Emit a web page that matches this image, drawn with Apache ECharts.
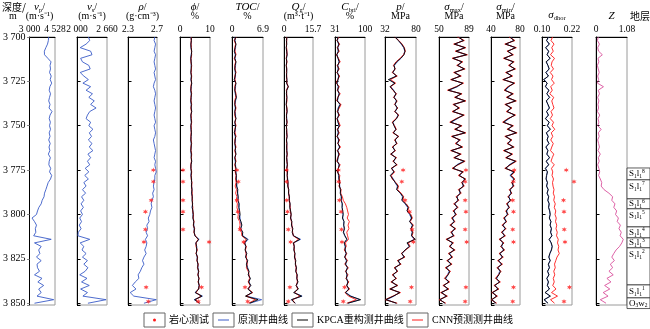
<!DOCTYPE html>
<html><head><meta charset="utf-8">
<script src="https://cdn.jsdelivr.net/npm/echarts@6/dist/echarts.min.js"></script>
<style>html,body{margin:0;padding:0;background:#fff}#c{width:650px;height:329px}</style>
</head><body><div id="c"></div>
<script>
// ---------------- DATA ----------------
const depth = [3700,3702,3704,3706,3708,3710,3712,3714,3716,3718,
3720,3722,3724,3726,3728,3730,3732,3734,3736,3738,
3740,3742,3744,3746,3748,3750,3752,3754,3756,3758,
3760,3762,3764,3766,3768,3770,3772,3774,3776,3778,
3780,3782,3784,3786,3788,3790,3792,3794,3796,3798,
3800,3802,3804,3806,3808,3810,3812,3814,3816,3818,
3820,3822,3824,3826,3828,3830,3832,3834,3836,3838,
3840,3842,3844,3846,3848,3850];

const vpOrig = [4150,4130,4080,3980,3890,3900,4100,4290,4230,4260,
4200,4300,4240,4330,4220,4180,4260,4200,4150,4230,
4170,4350,4230,4180,4250,4200,4260,4180,4230,4150,
4240,4170,4220,4130,4250,4180,4160,4270,4200,4330,
4260,4120,4050,3980,3900,3870,3760,3700,3560,3480,
3420,3150,3300,3420,3350,3380,3250,4300,3300,3700,
3550,3620,3420,3700,3450,3480,3600,3300,3750,3500,
3850,3550,3700,3450,4450,3300];

const vsOrig = [2250,2280,2200,2070,2300,2330,2080,2120,2260,2290,
2070,2150,2250,2130,2300,2200,2340,2260,2380,2300,
2420,2280,2230,2200,2300,2260,2350,2270,2320,2250,
2330,2270,2350,2240,2300,2230,2280,2180,2260,2170,
2250,2150,2200,2120,2190,2100,2150,2090,2140,2080,
2120,2060,2100,2050,2090,2030,2020,2280,2070,2150,
2110,2200,2120,2230,2150,2240,2180,2060,2220,2100,
2270,2080,2230,2130,2640,2240];

const rhoOrig = [2.67,2.66,2.68,2.67,2.66,2.68,2.67,2.66,2.67,2.68,
2.66,2.67,2.68,2.66,2.65,2.67,2.68,2.67,2.66,2.67,
2.68,2.67,2.66,2.67,2.68,2.66,2.67,2.68,2.67,2.65,
2.66,2.67,2.68,2.67,2.66,2.68,2.67,2.68,2.69,2.67,
2.67,2.66,2.65,2.66,2.64,2.65,2.63,2.62,2.63,2.61,
2.60,2.58,2.59,2.56,2.57,2.55,2.57,2.54,2.56,2.55,
2.53,2.55,2.52,2.50,2.52,2.49,2.47,2.44,2.45,2.40,
2.36,2.41,2.33,2.38,2.69,2.52];

const phiOrig = [3.6,3.8,3.7,3.6,3.9,3.7,3.6,3.8,3.7,3.8,
3.7,3.8,3.6,3.9,3.8,3.6,3.7,3.8,3.6,3.7,
3.8,3.9,3.7,3.6,3.8,3.7,3.6,3.8,3.7,3.7,
3.7,3.8,3.6,3.7,3.8,3.9,3.6,3.7,3.8,3.6,
3.9,3.8,3.9,4.0,3.8,4.1,4.1,4.2,4.0,4.3,
4.3,4.4,4.5,4.6,4.7,4.8,4.9,6.4,5.2,5.6,
5.5,5.5,5.7,5.8,5.9,6.0,6.1,6.1,6.2,6.2,
6.3,6.3,5.0,7.5,4.7,6.6];
const phiKpca = [3.7,3.8,3.6,3.7,3.9,3.8,3.6,3.7,3.8,3.7,
3.6,3.8,3.7,3.9,3.7,3.6,3.8,3.7,3.6,3.8,
3.7,3.9,3.6,3.7,3.8,3.6,3.7,3.8,3.7,3.6,
3.8,3.7,3.6,3.8,3.7,3.9,3.7,3.6,3.8,3.7,
3.8,3.9,3.8,4.0,3.9,4.1,4.0,4.2,4.1,4.3,
4.4,4.3,4.6,4.5,4.8,4.7,5.0,6.2,5.3,5.5,
5.6,5.4,5.8,5.7,6.0,5.9,6.2,6.0,6.3,6.1,
6.4,6.2,5.1,7.3,4.9,6.5];
const phiCnn = [3.8,3.7,3.7,3.8,3.8,3.9,3.7,3.6,3.9,3.8,
3.7,3.9,3.8,3.8,3.6,3.7,3.9,3.6,3.7,3.9,
3.6,3.8,3.7,3.8,3.9,3.7,3.8,3.7,3.6,3.7,
3.9,3.6,3.7,3.9,3.8,3.8,3.6,3.7,3.9,3.8,
3.7,4.0,3.9,3.9,4.1,4.0,4.2,4.1,4.3,4.2,
4.5,4.4,4.7,4.4,4.9,4.6,5.1,6.0,5.4,5.3,
5.8,5.3,5.9,5.6,6.1,5.8,6.3,5.9,6.4,6.0,
6.5,6.1,5.4,7.0,5.2,6.3];

const tocOrig = [0.7,0.7,0.8,0.8,0.6,0.7,0.7,0.8,0.8,0.7,
0.7,0.8,0.6,0.8,0.8,0.7,0.7,0.9,0.8,0.7,
0.7,0.7,0.8,0.8,0.7,0.7,0.8,0.6,0.7,0.8,
0.7,0.7,0.8,0.8,0.7,0.7,0.8,0.8,0.9,0.9,
1.0,1.0,1.1,1.2,1.3,1.3,1.4,1.5,1.6,1.6,
1.7,1.8,1.9,2.1,2.0,2.3,2.4,3.6,2.9,3.0,
3.0,3.2,3.1,3.4,3.3,3.5,3.7,3.7,4.0,3.8,
4.1,3.7,4.3,3.2,6.6,4.0];
const tocKpca = [0.8,0.6,0.9,0.7,0.5,0.8,0.6,0.9,0.7,0.6,
0.8,0.7,0.5,0.9,0.7,0.6,0.8,1.0,0.7,0.6,
0.8,0.6,0.7,0.9,0.6,0.8,0.7,0.5,0.8,0.7,
0.6,0.8,0.7,0.9,0.6,0.8,0.7,0.9,0.8,1.0,
0.9,1.1,1.0,1.3,1.2,1.4,1.3,1.6,1.5,1.7,
1.8,1.6,2.0,2.2,1.9,2.4,2.3,3.4,2.8,3.1,
2.9,3.3,3.0,3.5,3.2,3.4,3.8,3.6,4.1,3.7,
4.2,3.5,4.5,3.0,5.8,3.9];
const tocCnn = [0.9,0.5,0.8,0.6,0.7,0.9,0.5,0.8,0.6,0.7,
0.9,0.6,0.7,0.8,0.6,0.7,0.9,0.8,0.6,0.7,
0.9,0.7,0.6,0.8,0.7,0.9,0.6,0.7,0.9,0.6,
0.7,0.9,0.6,0.8,0.7,0.9,0.6,0.8,0.7,0.9,
0.8,0.9,0.7,1.0,0.8,1.1,0.9,1.2,1.1,1.3,
1.4,1.3,1.7,1.8,1.6,2.1,2.2,3.1,2.6,3.2,
3.0,3.1,3.2,3.3,3.4,3.2,3.6,3.8,3.9,3.6,
4.0,3.6,4.6,3.1,5.2,3.7];

const qgOrig = [1.5,1.4,1.4,1.3,1.5,1.6,1.4,1.4,1.3,1.5,
1.4,1.4,1.5,1.5,2.1,1.4,1.4,1.5,1.3,1.3,
1.4,1.6,1.4,1.5,1.5,1.3,1.4,1.5,1.6,1.4,
1.5,1.5,1.6,1.6,1.5,1.7,1.7,1.6,1.8,1.8,
2.0,2.1,2.2,2.5,2.5,2.8,2.9,3.2,3.3,3.5,
3.7,3.7,4.1,4.2,4.6,4.6,5.0,9.0,5.2,5.5,
5.5,5.8,5.8,6.2,6.2,6.6,6.5,7.0,7.0,7.4,
6.8,7.5,5.5,9.8,4.0,6.2];
const qgKpca = [1.6,1.3,1.5,1.2,1.4,1.7,1.3,1.5,1.2,1.4,
1.5,1.3,1.6,1.4,2.4,1.5,1.3,1.6,1.4,1.2,
1.5,1.7,1.3,1.4,1.6,1.2,1.5,1.4,1.7,1.3,
1.6,1.4,1.5,1.7,1.4,1.6,1.8,1.5,1.9,1.7,
1.9,2.2,2.0,2.6,2.4,3.0,2.8,3.3,3.1,3.6,
3.9,3.5,4.3,4.0,4.8,4.4,5.2,8.6,5.0,5.6,
5.3,6.0,5.6,6.4,6.1,6.8,6.3,7.2,6.9,7.6,
6.5,7.8,5.2,9.5,4.1,6.0];
const qgCnn = [1.4,1.5,1.3,1.4,1.6,1.5,1.2,1.6,1.3,1.5,
1.3,1.5,1.4,1.6,2.2,1.3,1.5,1.4,1.6,1.3,
1.6,1.5,1.4,1.3,1.7,1.4,1.3,1.6,1.5,1.4,
1.4,1.6,1.4,1.8,1.5,1.5,1.9,1.6,1.7,1.8,
1.8,2.0,2.2,2.4,2.6,2.7,3.0,3.1,3.4,3.4,
3.8,3.6,4.0,4.3,4.5,4.7,5.0,7.8,5.3,5.4,
5.6,5.7,5.9,6.1,6.3,6.5,6.6,6.9,7.1,7.2,
6.7,7.4,5.8,8.6,4.6,5.8];

const cbriOrig = [38,37,39,38,38,36,38,40,38,38,
37,39,38,36,38,38,40,38,37,42,
38,38,39,37,38,40,38,38,37,39,
38,41,38,39,38,37,40,39,38,39,
40,41,42,43,44,45,46,47,48,48,
49,49,51,51,52,51,53,59,53,54,
55,56,54,57,56,59,57,58,58,60,
59,62,56,68,88,61];
const cbriKpca = [38,36,40,37,39,35,38,41,37,39,
36,40,38,35,39,37,41,38,36,43,
39,37,40,36,38,41,37,39,36,40,
38,42,37,40,38,36,41,39,37,40,
40,42,41,44,43,46,45,48,47,49,
50,48,52,51,53,50,54,58,52,55,
54,57,53,58,55,60,56,59,57,61,
58,63,55,66,90,60];
const cbriCnn = [40,35,42,36,41,34,39,43,36,41,
35,42,37,34,41,36,43,37,35,45,
41,36,42,35,40,43,36,41,35,42,
37,44,36,42,37,35,43,38,36,42,
41,43,40,45,44,48,50,55,58,60,
62,59,64,61,63,58,60,62,55,57,
52,58,54,60,53,62,55,61,56,63,
57,65,54,62,80,58];

const pOrig = [48.0,53.0,57.0,61.0,62.5,61.0,57.0,51.0,46.5,47.0,
44.5,49.0,39.0,46.5,41.0,45.5,48.5,46.5,49.5,48.0,
50.5,48.0,52.0,49.5,44.5,46.5,48.5,45.5,52.0,48.0,
49.5,44.5,47.0,42.0,48.5,45.5,49.5,43.0,45.5,41.0,
45.0,47.5,51.0,50.5,55.5,59.0,58.5,63.0,67.0,66.5,
70.0,72.5,70.5,74.0,72.5,74.0,73.0,77.0,67.0,69.5,
63.5,58.5,61.0,53.0,55.0,48.0,50.5,45.0,48.5,43.0,
50.0,41.0,54.0,46.0,35.0,49.0];
const pKpca = [47.5,52.6,57.8,61.4,63.0,61.4,56.3,50.0,45.9,47.5,
43.9,50.0,37.2,47.5,39.7,44.9,49.0,45.9,50.0,47.5,
51.1,47.5,52.6,50.0,43.9,45.9,49.0,44.9,52.6,47.5,
50.0,43.9,47.5,41.0,49.0,44.9,50.0,42.0,46.0,40.0,
44.0,48.0,52.0,50.0,56.0,60.0,58.0,64.0,68.0,66.0,
71.0,73.5,70.0,75.0,72.0,74.5,73.0,79.0,66.0,70.0,
63.0,58.0,62.0,52.0,56.0,47.0,51.0,44.0,49.0,42.0,
51.0,40.0,55.0,45.0,33.0,50.0];
const pCnn = [47.0,53.5,58.5,62.0,63.5,60.5,55.5,49.0,45.0,48.0,
43.0,51.0,40.5,48.5,40.5,44.0,50.0,45.0,51.0,46.5,
52.0,46.5,53.5,49.0,43.0,47.0,49.5,44.0,53.5,46.5,
51.0,43.0,48.5,40.5,50.0,44.0,51.0,41.5,47.0,42.0,
43.0,49.0,53.0,51.5,57.0,61.0,59.5,65.0,69.0,67.5,
72.0,74.5,71.0,76.0,73.0,75.5,74.0,78.0,68.0,71.0,
64.0,57.0,63.0,51.0,57.0,46.0,52.0,43.0,50.0,41.0,
52.0,39.0,56.0,44.0,32.5,51.0];

const smaxOrig = [76,81,71,83,73,85,69,79,75,82,
71,77,67,80,74,63,78,72,83,70,
75,69,81,74,66,78,72,83,68,76,
73,79,67,77,71,82,73,69,80,77,
83,81,81,77,77,74,74,71,73,70,
71,68,69,66,70,67,68,61,67,65,
69,64,66,62,65,60,63,61,59,62,
57,61,54,59,52,57];
const smaxKpca = [75,82,70,84,72,86,68,80,74,83,
70,78,66,81,73,62,79,71,84,69,
76,68,82,73,65,79,71,84,67,77,
72,80,66,78,70,83,74,68,81,76,
84,80,82,76,78,73,75,70,74,69,
72,67,70,65,71,66,69,60,68,64,
70,63,67,61,66,59,64,62,58,63,
56,62,53,60,51,58];
const smaxCnn = [74,83,69,85,71,87,67,81,73,84,
69,79,65,82,72,61,80,70,85,68,
77,67,83,72,64,80,70,85,66,78,
71,81,65,79,69,84,75,67,82,75,
85,79,83,75,79,72,76,69,75,68,
73,66,71,64,72,65,70,59,69,63,
71,62,68,60,67,58,65,61,57,64,
55,63,52,61,50,59];

const sminOrig = [67,71,61,73,64,69,59,70,66,72,
62,68,58,71,65,60,69,63,73,61,
67,63,72,65,58,69,64,74,61,67,
64,70,59,68,62,73,65,61,71,66,
71,70,70,67,67,65,66,63,64,62,
62,59,60,57,59,56,58,53,56,55,
57,53,55,51,54,50,52,50,48,51,
46,49,43,47,42,46];
const sminKpca = [66,72,60,74,63,70,58,71,65,73,
61,69,57,72,64,59,70,62,74,60,
68,62,73,64,57,70,63,75,60,68,
63,71,58,69,61,74,66,60,72,67,
72,69,71,66,68,64,67,62,65,61,
63,58,61,56,60,55,59,52,57,54,
58,52,56,50,55,49,53,51,47,52,
45,50,42,48,41,47];
const sminCnn = [65,73,59,75,62,71,57,72,64,74,
60,70,56,73,63,58,71,61,75,59,
69,61,74,63,56,71,62,76,59,69,
62,72,57,70,60,75,67,59,73,68,
73,68,72,65,69,63,68,61,66,60,
64,57,62,55,61,54,60,51,58,53,
59,51,57,49,56,48,54,50,46,53,
44,51,41,49,40,48];

const sdhOrig = [0.126,0.119,0.128,0.116,0.126,0.121,0.131,0.118,0.123,0.128,
0.117,0.125,0.109,0.120,0.115,0.127,0.120,0.129,0.118,0.123,
0.129,0.119,0.125,0.115,0.128,0.122,0.132,0.118,0.124,0.121,
0.127,0.117,0.123,0.120,0.129,0.118,0.126,0.115,0.121,0.119,
0.117,0.121,0.119,0.124,0.121,0.126,0.124,0.128,0.127,0.130,
0.132,0.130,0.135,0.133,0.137,0.135,0.139,0.130,0.136,0.140,
0.137,0.132,0.128,0.132,0.126,0.129,0.123,0.127,0.120,0.125,
0.122,0.129,0.114,0.132,0.110,0.123];
const sdhKpca = [0.125,0.118,0.130,0.114,0.127,0.120,0.133,0.116,0.124,0.129,
0.115,0.126,0.106,0.121,0.113,0.128,0.119,0.131,0.117,0.124,
0.130,0.118,0.126,0.113,0.129,0.121,0.134,0.117,0.125,0.120,
0.128,0.115,0.124,0.119,0.131,0.116,0.127,0.113,0.122,0.118,
0.116,0.122,0.118,0.125,0.120,0.127,0.123,0.129,0.126,0.131,
0.133,0.129,0.136,0.132,0.138,0.134,0.140,0.128,0.137,0.141,
0.138,0.131,0.127,0.133,0.125,0.130,0.122,0.128,0.119,0.126,
0.121,0.130,0.112,0.134,0.108,0.124];
const sdhCnn = [0.142,0.136,0.148,0.139,0.145,0.134,0.150,0.140,0.137,0.146,
0.133,0.144,0.138,0.149,0.135,0.141,0.131,0.147,0.139,0.143,
0.148,0.136,0.142,0.133,0.146,0.140,0.151,0.137,0.143,0.135,
0.145,0.139,0.134,0.147,0.141,0.136,0.149,0.138,0.143,0.140,
0.146,0.142,0.144,0.148,0.145,0.150,0.147,0.153,0.149,0.155,
0.152,0.157,0.154,0.159,0.156,0.161,0.158,0.165,0.162,0.167,
0.164,0.169,0.160,0.155,0.150,0.153,0.147,0.151,0.145,0.149,
0.143,0.156,0.138,0.162,0.134,0.150];

const zOrig = [0.08,0.05,0.12,0.06,0.09,0.22,0.07,0.10,0.05,0.08,
0.11,0.06,0.09,0.05,0.26,0.08,0.12,0.06,0.10,0.07,
0.09,0.05,0.13,0.07,0.10,0.06,0.18,0.08,0.11,0.06,
0.09,0.12,0.07,0.15,0.08,0.11,0.06,0.10,0.13,0.09,
0.15,0.20,0.18,0.28,0.45,0.58,0.55,0.66,0.62,0.72,
0.68,0.78,0.74,0.85,0.80,0.88,0.84,0.95,0.90,0.82,
0.70,0.62,0.55,0.64,0.50,0.58,0.45,0.60,0.38,0.52,
0.30,0.48,0.25,0.42,0.15,0.35];

// core (laboratory) measurements
const coreDepth = [3775,3781.5,3792,3798.5,3808.5,3815.5,3841,3849];
const rhoCore  = [2.65,2.65,2.62,2.54,2.54,2.52,2.55,2.58];
const phiCore  = [1.0,1.0,1.0,1.0,1.0,9.7,7.2,6.1];
const tocCore  = [1.1,1.4,1.1,1.3,1.8,2.6,2.9,3.5];
const qgCore   = [1.4,1.4,1.5,1.9,2.3,3.6,3.2,2.3];
const cbriCore = [39,39,41,45,46,47,53,50];
const pCore    = [60,58,63,70,74,76,73,71];
const smaxCore = [85,84,84,85,84,86,85,84];
const sminCore = [72,71,70,71,70,71,71,70];
const sdhCore  = [0.197,0.228,0.186,0.188,0.189,0.192,0.210,0.188];

// strata
const strataTop    = [3773.8,3780.5,3791.2,3796.8,3807.0,3813.2,3818.8,3839.7,3847.0];
const strataBottom = [3780.5,3791.2,3796.8,3807.0,3813.2,3818.8,3839.7,3847.0,3853.0];
const strataLabels = ['{m|S}{b|1}{m|l}{b|1}{t|8}','{m|S}{b|1}{m|l}{b|1}{t|7}','{m|S}{b|1}{m|l}{b|1}{t|6}',
  '{m|S}{b|1}{m|l}{b|1}{t|5}','{m|S}{b|1}{m|l}{b|1}{t|4}','{m|S}{b|1}{m|l}{b|1}{t|3}',
  '{m|S}{b|1}{m|l}{b|1}{t|2}','{m|S}{b|1}{m|l}{b|1}{t|1}','{m|O}{b|3}{m|w}{b|2}'];

// axes
const xMin = [3000,2000,2.3,0,0,0,31,32,50,40,0.10,0];
const xMax = [4528,2660,2.7,10,6.9,15.7,100,80,89,80,0.22,1.08];
const xTickLabels = [['3 000','4 528'],['2 000','2 660'],['2.3','2.7'],['0','10'],['0','6.9'],['0','15.7'],
  ['31','100'],['32','80'],['50','89'],['40','80'],['0.10','0.22'],['0','1.08']];
const depthTickValues = [3700,3725,3750,3775,3800,3825,3850];
const depthTickLabels = ['3 700','3 725','3 750','3 775','3 800','3 825','3 850'];
const headers = [
  ['{i|v}{s|p}{n|/}','{n|(m·s⁻¹)}'],
  ['{i|v}{s|s}{n|/}','{n|(m·s⁻¹)}'],
  ['{i|ρ}{n|/}','{n|(g·cm⁻³)}'],
  ['{i|ϕ}{n|/}','{n|%}'],
  ['{i|TOC}{n|/}','{n|%}'],
  ['{i|Q}{s|g}{n|/}','{n|(m³·t⁻¹)}'],
  ['{i|C}{s|bri}{n|/}','{n|%}'],
  ['{i|p}{n|/}','{n|MPa}'],
  ['{i|σ}{s|max}{n|/}','{n|MPa}'],
  ['{i|σ}{s|min}{n|/}','{n|MPa}'],
  ['','{i|σ}{s|dhor}'],
  ['','{i|Z}']
];
const legendNames = ['岩心测试','原测井曲线','KPCA重构测井曲线','CNN预测测井曲线'];

// ---------------- CHART ----------------
const SERIF = "'Liberation Serif','Noto Sans CJK SC',serif";
const BLUE = '#3a5bc7', RED = '#ff1a1a', BLACK = '#000000', PINK = '#d9509c';
const STAR = 'path://M0,-10L2.2,-3.8L8.7,-5L4.4,0L8.7,5L2.2,3.8L0,10L-2.2,3.8L-8.7,5L-4.4,0L-8.7,-5L-2.2,-3.8Z';
const panels = [{x:24,w:31},{x:77,w:30},{x:128,w:29},{x:180,w:30},{x:232,w:31},{x:284,w:29},
  {x:335,w:30},{x:385,w:31},{x:439,w:30},{x:491,w:29},{x:542,w:30},{x:596,w:31}];
const TOP = 37, H = 268, DMIN = 3700, DMAX = 3851;
const near = (a, b) => Math.abs(a - b) < 1e-9;

const grid = [], xAxis = [], yAxis = [], series = [];
panels.forEach((p, i) => {
  grid.push({left:p.x, top:TOP, width:p.w, height:H, show:true, borderColor:'#9a9a9a', borderWidth:1, backgroundColor:'#fff'});
  xAxis.push({type:'value', gridIndex:i, position:'top', min:xMin[i], max:xMax[i],
    axisLine:{show:true, onZero:false, lineStyle:{color:'#000', width:1}},
    axisTick:{show:false}, splitLine:{show:false},
    axisLabel:{show:true, showMinLabel:true, showMaxLabel:true, margin:3, fontSize:9.5, fontFamily:SERIF, color:'#000',
      formatter:(v) => near(v, xMin[i]) ? xTickLabels[i][0] : (near(v, xMax[i]) ? xTickLabels[i][1] : '')}});
  yAxis.push({type:'value', gridIndex:i, inverse:true, min:DMIN, max:DMAX, interval:25,
    axisLine:{show:true, onZero:false, lineStyle:{color:'#000', width:1}},
    axisTick:{show:true, inside:i > 0, length:i > 0 ? 3.5 : 2.5, lineStyle:{color:i > 0 ? '#000' : '#888'}},
    splitLine:{show:false},
    axisLabel:{show:i === 0, margin:4, fontSize:10, fontFamily:SERIF, color:'#000',
      formatter:(v) => { const k = depthTickValues.indexOf(v); return k >= 0 ? depthTickLabels[k] : ''; }}});
});
// strata column
grid.push({left:627, top:TOP, width:25, height:H, show:false});
xAxis.push({type:'value', gridIndex:12, min:0, max:1, show:false});
yAxis.push({type:'value', gridIndex:12, inverse:true, min:DMIN, max:DMAX, show:false});

function line(gi, arr, color, name) {
  series.push({type:'line', name, xAxisIndex:gi, yAxisIndex:gi, data:depth.map((d, k) => [arr[k], d]),
    symbol:'none', silent:true, lineStyle:{color, width:0.9}, z:2});
}
function core(gi, arr) {
  series.push({type:'scatter', name:legendNames[0], xAxisIndex:gi, yAxisIndex:gi, clip:false,
    data:coreDepth.map((d, k) => [arr[k], d]), symbol:STAR, symbolSize:5, itemStyle:{color:RED}, z:5, silent:true});
}
line(0, vpOrig, BLUE, legendNames[1]);
line(1, vsOrig, BLUE, legendNames[1]);
line(2, rhoOrig, BLUE, legendNames[1]); core(2, rhoCore);
const triple = [[3, phiOrig, phiKpca, phiCnn, phiCore],[4, tocOrig, tocKpca, tocCnn, tocCore],
  [5, qgOrig, qgKpca, qgCnn, qgCore],[6, cbriOrig, cbriKpca, cbriCnn, cbriCore],
  [7, pOrig, pKpca, pCnn, pCore],[8, smaxOrig, smaxKpca, smaxCnn, smaxCore],
  [9, sminOrig, sminKpca, sminCnn, sminCore],[10, sdhOrig, sdhKpca, sdhCnn, sdhCore]];
triple.forEach(t => {
  line(t[0], t[1], BLUE, legendNames[1]);
  line(t[0], t[3], RED, legendNames[3]);
  line(t[0], t[2], BLACK, legendNames[2]);
  core(t[0], t[4]);
});
line(11, zOrig, PINK, 'Z');

const strataRich = {
  m:{fontFamily:SERIF, fontSize:9, color:'#000', lineHeight:11},
  b:{fontFamily:SERIF, fontSize:5.5, color:'#000', verticalAlign:'bottom'},
  t:{fontFamily:SERIF, fontSize:5.5, color:'#000', verticalAlign:'top'}
};
series.push({type:'custom', xAxisIndex:12, yAxisIndex:12, silent:true, clip:false,
  data:strataTop.map((t, k) => [k, t, strataBottom[k]]),
  encode:{x:0, y:[1, 2]},
  renderItem:(params, api) => {
    const k = params.dataIndex;
    const a = api.coord([0, api.value(1)]), c = api.coord([1, api.value(2)]);
    const h = c[1] - a[1];
    return {type:'group', children:[
      {type:'rect', shape:{x:a[0], y:a[1], width:c[0] - a[0], height:h}, style:{fill:'#fff', stroke:'#333', lineWidth:0.8}},
      {type:'text', x:a[0] + 2, y:a[1] + Math.min(h / 2, 6.5),
        style:{text:strataLabels[k], rich:strataRich, align:'left', verticalAlign:'middle', textAlign:'left', textVerticalAlign:'middle'}}
    ]};
  }
});

// headers & legend as graphic text
const headRich = {
  i:{fontFamily:SERIF, fontStyle:'italic', fontSize:11, color:'#000', lineHeight:13},
  n:{fontFamily:SERIF, fontSize:10, color:'#000', lineHeight:13},
  s:{fontFamily:SERIF, fontSize:6.5, color:'#000', verticalAlign:'bottom'}
};
const graphics = [];
function txt(x, y, text, rich, font) {
  graphics.push({type:'text', x, y, silent:true, style:{text, rich, font, fill:'#000',
    align:'center', verticalAlign:'middle', textAlign:'center', textVerticalAlign:'middle'}});
}
panels.forEach((p, i) => {
  const cx = p.x + p.w / 2;
  if (headers[i][0]) txt(cx, 7, headers[i][0], headRich);
  txt(cx, i === 10 ? 15 : 16.5, headers[i][1], headRich);
});
txt(14, 7, '深度/', null, "10px 'Noto Sans CJK SC'");
txt(13, 16.5, '{n|m}', headRich);
txt(640, 16, '地层', null, "10px 'Noto Sans CJK SC'");

const boxX = [144, 213, 292, 407], textX = [169, 238, 317, 432];
const legColors = [RED, BLUE, BLACK, RED];
for (let k = 0; k < 4; k++) {
  graphics.push({type:'rect', silent:true, shape:{x:boxX[k], y:313, width:21, height:14}, style:{fill:'#fff', stroke:'#666', lineWidth:1}});
  if (k === 0) graphics.push({type:'circle', silent:true, shape:{cx:boxX[k] + 10.5, cy:320, r:1.5}, style:{fill:RED}});
  else graphics.push({type:'line', silent:true, shape:{x1:boxX[k] + 5, y1:320, x2:boxX[k] + 16, y2:320}, style:{stroke:legColors[k], lineWidth:1}});
  graphics.push({type:'text', x:textX[k], y:320.5, silent:true, style:{text:legendNames[k], font:"10px 'Liberation Serif','Noto Sans CJK SC'",
    fill:'#000', align:'left', verticalAlign:'middle', textAlign:'left', textVerticalAlign:'middle'}});
}

const chart = echarts.init(document.getElementById('c'), null, {renderer:'canvas'});
chart.setOption({animation:false, backgroundColor:'#fff', grid, xAxis, yAxis, series, graphic:{elements:graphics}});
</script></body></html>
